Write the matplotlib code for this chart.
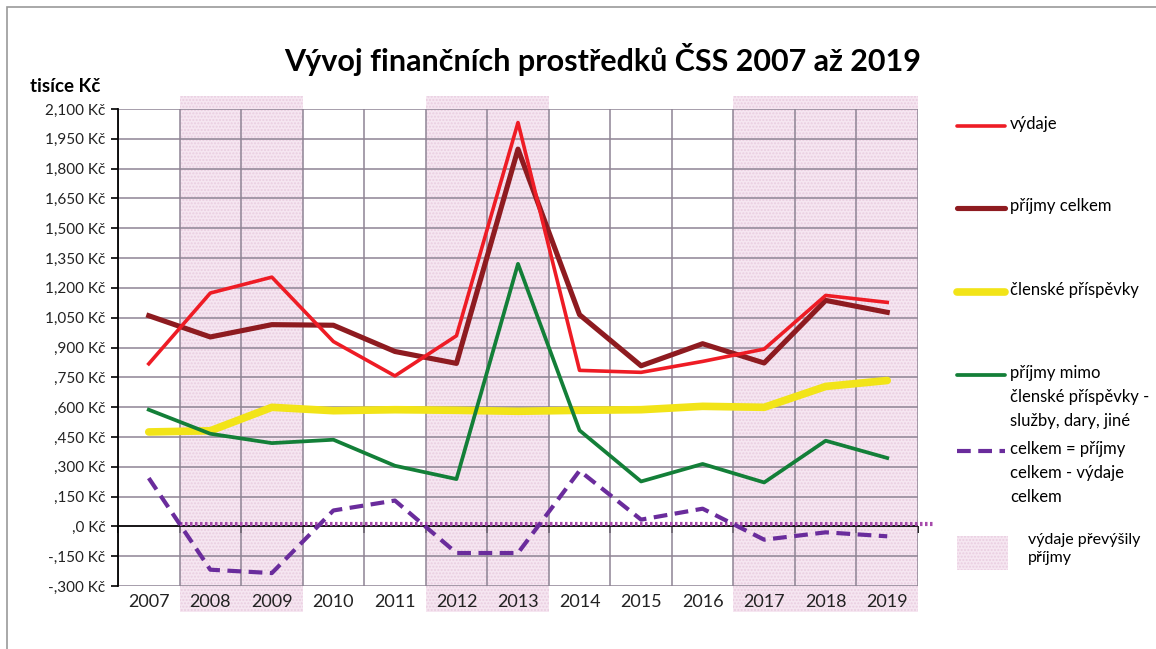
import matplotlib.pyplot as plt
import matplotlib.patches as mpatches
from matplotlib.lines import Line2D
import numpy as np

plt.rcParams['font.family'] = ['Lato', 'DejaVu Sans']

# ── Data (tisíce Kč) ──────────────────────────────────────────────────────
years      = ['2007', '2008', '2009', '2010', '2011', '2012', '2013',
              '2014', '2015', '2016', '2017', '2018', '2019']
vydaje     = [818, 1174, 1254, 930, 757, 959, 2032, 785, 775, 830, 892, 1162, 1127]
prijmy     = [1060, 953, 1015, 1012, 880, 820, 1898, 1065, 808, 919, 822, 1137, 1077]
clenske    = [475, 481, 599, 582, 587, 584, 579, 584, 587, 604, 599, 704, 734]
mimo       = [587, 466, 419, 436, 305, 238, 1321, 483, 226, 314, 221, 431, 344]
celkem     = [243, -218, -235, 80, 130, -134, -134, 280, 34, 89, -67, -30, -50]
deficit_years = [('2008', '2009'), ('2012', '2013'), ('2017', '2019')]
zero_ref   = 12

y_ticks  = list(range(-300, 2101, 150))
y_labels = ['-,300 Kč', '-,150 Kč', ',0 Kč', ',150 Kč', ',300 Kč', ',450 Kč',
            ',600 Kč', ',750 Kč', ',900 Kč', '1,050 Kč', '1,200 Kč', '1,350 Kč',
            '1,500 Kč', '1,650 Kč', '1,800 Kč', '1,950 Kč', '2,100 Kč']

c_red, c_brown, c_yellow = '#ee1c25', '#8e1b20', '#f2e418'
c_green, c_purple, c_dot = '#137f38', '#6a2c9c', '#a64aab'
band_face, band_hatch = '#f6e6f1', '#e9cde0'
grid_col = '#8e8494'

W, H = 1156, 649
fig = plt.figure(figsize=(W / 100, H / 100), dpi=100)
ax = fig.add_axes([118 / W, 1 - 586 / H, 800 / W, 477 / H])

x = np.arange(len(years))

# ── Shaded bands: years where expenses exceeded income ───────────────────
for a, b in deficit_years:
    i0, i1 = years.index(a), years.index(b)
    ax.axvspan(i0 - 0.5, i1 + 0.5, ymin=-0.055, ymax=1.027, clip_on=False,
               facecolor=band_face, edgecolor=band_hatch, hatch='.....',
               linewidth=0, zorder=0)

# ── Grid ─────────────────────────────────────────────────────────────────
for yv in y_ticks:
    ax.axhline(yv, color=grid_col, linewidth=1.1, zorder=1)
for k in range(len(years) + 1):
    ax.axvline(k - 0.5, color=grid_col, linewidth=1.1, zorder=1)
ax.axhline(0, color='black', linewidth=1.2, zorder=2)

# ── Series ───────────────────────────────────────────────────────────────
ax.plot([0.5, len(years) - 0.5 + 0.28], [zero_ref, zero_ref], color=c_dot,
        linewidth=3, linestyle=(0, (0.6, 0.6)), clip_on=False, zorder=3)
ax.plot(x, clenske, color=c_yellow, linewidth=5.5, solid_capstyle='round', zorder=4)
ax.plot(x, mimo, color=c_green, linewidth=2.7, zorder=5)
ax.plot(x, celkem, color=c_purple, linewidth=3, linestyle=(0, (3.3, 1.8)), zorder=5)
ax.plot(x, prijmy, color=c_brown, linewidth=3.7, zorder=6)
ax.plot(x, vydaje, color=c_red, linewidth=2.6, zorder=7)

# ── Axes ─────────────────────────────────────────────────────────────────
ax.set_xlim(-0.5, len(years) - 0.5)
ax.set_ylim(-300, 2100)
for s in ['top', 'right', 'bottom']:
    ax.spines[s].set_visible(False)
ax.spines['left'].set_linewidth(1.3)
ax.spines['left'].set_zorder(8)
ax.set_yticks(y_ticks)
ax.set_yticklabels(y_labels, fontsize=11, color='#222222')
ax.tick_params(axis='y', direction='out', length=5, width=1.2, pad=4)
ax.set_xticks(x)
ax.set_xticklabels(years, fontsize=13, color='#222222')
ax.tick_params(axis='x', length=0, pad=6)
ax.set_facecolor('none')

sec = ax.secondary_xaxis(0, transform=ax.transData)
sec.spines['bottom'].set_visible(False)
sec.set_xticks(np.arange(len(years) + 1) - 0.5)
sec.set_xticklabels([])
sec.tick_params(axis='x', direction='out', length=5, width=1.2, color='black')

# ── Titles ───────────────────────────────────────────────────────────────
fig.text(603 / W, 1 - 60 / H, 'Vývoj finančních prostředků ČSS 2007 až 2019',
         fontsize=22, fontweight='bold', ha='center', va='center')
fig.text(30 / W, 1 - 86 / H, 'tisíce Kč', fontsize=13.5, fontweight='bold',
         ha='left', va='center')

# ── Legend (manual, irregular spacing like the original) ─────────────────
leg = [
    (126, c_red, 2.6, '-', 'výdaje'),
    (208, c_brown, 3.7, '-', 'příjmy celkem'),
    (292, c_yellow, 5.5, '-', 'členské příspěvky'),
    (375, c_green, 2.7, '-', 'příjmy mimo\nčlenské příspěvky -\nslužby, dary, jiné'),
    (451, c_purple, 3, (0, (3.3, 1.8)), 'celkem = příjmy\ncelkem - výdaje\ncelkem'),
]
for yy, col, lw, ls, lab in leg:
    fig.add_artist(Line2D([957 / W, 1005 / W], [1 - yy / H, 1 - yy / H],
                          color=col, linewidth=lw, linestyle=ls,
                          solid_capstyle='round'))
    fig.text(1010 / W, 1 - (yy - 10) / H, lab, fontsize=12, ha='left', va='top',
             linespacing=1.6)
fig.add_artist(mpatches.Rectangle((957 / W, 1 - 570 / H), 51 / W, 34 / H,
                                  facecolor=band_face, edgecolor=band_hatch,
                                  hatch='.....', linewidth=0))
fig.text(1028 / W, 1 - 533 / H, 'výdaje převýšily\npříjmy', fontsize=11.5,
         ha='left', va='top', linespacing=1.4)

# outer frame
fig.add_artist(mpatches.Rectangle((7 / W, -0.1), 1.2, 1 - 7 / H + 0.1,
                                  facecolor='none', edgecolor='#9a9a9a',
                                  linewidth=1.2))

plt.savefig('out.png', dpi=100)
